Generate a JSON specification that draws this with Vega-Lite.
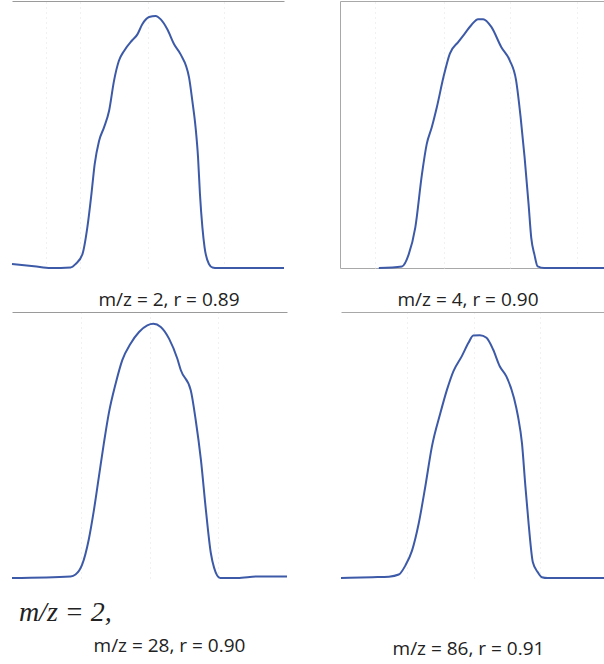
{
  "$schema": "https://vega.github.io/schema/vega-lite/v6.json",
  "padding": {"left": 8, "top": 0, "right": 0, "bottom": 6},
  "autosize": {"type": "pad"},
  "background": "white",
  "config": {
    "view": {"stroke": null},
    "title": {"font": "Open Sans", "fontSize": 19, "fontWeight": "normal", "color": "#222", "orient": "bottom", "anchor": "middle"},
    "line": {"color": "#3d5aa8", "strokeWidth": 2, "interpolate": "monotone"}
  },
  "datasets": {
    "p1": [
      {"t": 0, "v": 1.5}, {"t": 8.1, "v": 0.7}, {"t": 14.2, "v": 0}, {"t": 21.6, "v": 0.2}, {"t": 23.4, "v": 1.5},
      {"t": 25.9, "v": 5.2}, {"t": 27.7, "v": 15.2}, {"t": 29.2, "v": 27.7}, {"t": 30.4, "v": 38.9}, {"t": 32.0, "v": 47.6},
      {"t": 33.8, "v": 52.6}, {"t": 35.7, "v": 58.9}, {"t": 37.5, "v": 70.1}, {"t": 39.3, "v": 77.6}, {"t": 41.2, "v": 81.3},
      {"t": 44.2, "v": 85.3}, {"t": 46.1, "v": 87.5}, {"t": 47.9, "v": 91.3}, {"t": 50.4, "v": 94.0}, {"t": 52.8, "v": 94.4},
      {"t": 54.7, "v": 93.1}, {"t": 57.1, "v": 89.4}, {"t": 59.6, "v": 83.8}, {"t": 62.0, "v": 80.0}, {"t": 65.1, "v": 71.3},
      {"t": 66.3, "v": 62.6}, {"t": 67.5, "v": 52.6}, {"t": 68.4, "v": 41.4}, {"t": 69.1, "v": 27.7}, {"t": 70.0, "v": 15.2},
      {"t": 70.8, "v": 7.7}, {"t": 72.4, "v": 1.5}, {"t": 73.7, "v": 0.2}, {"t": 75.5, "v": 0}, {"t": 100, "v": 0}
    ],
    "p2": [
      {"t": 14.6, "v": 0}, {"t": 23.3, "v": 0.6}, {"t": 25.8, "v": 5.0}, {"t": 28.3, "v": 15.1}, {"t": 30.8, "v": 35.1},
      {"t": 32.6, "v": 46.4}, {"t": 34.5, "v": 52.7}, {"t": 36.4, "v": 60.2}, {"t": 38.9, "v": 71.5}, {"t": 41.3, "v": 80.3},
      {"t": 44.5, "v": 84.7}, {"t": 46.9, "v": 87.8}, {"t": 49.4, "v": 91.0}, {"t": 51.9, "v": 93.2}, {"t": 53.8, "v": 93.2},
      {"t": 56.9, "v": 90.3}, {"t": 60.6, "v": 82.8}, {"t": 63.8, "v": 77.8}, {"t": 66.2, "v": 70.3}, {"t": 67.9, "v": 56.5},
      {"t": 69.4, "v": 41.4}, {"t": 70.9, "v": 23.8}, {"t": 71.9, "v": 11.3}, {"t": 73.1, "v": 5.0}, {"t": 74.3, "v": 0.6},
      {"t": 76.8, "v": 0}, {"t": 100, "v": 0}
    ],
    "p3": [
      {"t": 0, "v": 0}, {"t": 21.3, "v": 0.6}, {"t": 23.1, "v": 1.3}, {"t": 25.5, "v": 5.0}, {"t": 27.9, "v": 14.4},
      {"t": 29.8, "v": 25.6}, {"t": 31.6, "v": 38.1}, {"t": 33.4, "v": 50.6}, {"t": 35.2, "v": 61.9}, {"t": 37.7, "v": 73.1},
      {"t": 40.1, "v": 81.9}, {"t": 43.1, "v": 88.1}, {"t": 46.2, "v": 92.5}, {"t": 49.2, "v": 95.0}, {"t": 51.4, "v": 95.6},
      {"t": 54.1, "v": 94.4}, {"t": 57.1, "v": 90.0}, {"t": 60.1, "v": 82.5}, {"t": 61.4, "v": 78.1}, {"t": 65.0, "v": 70.6},
      {"t": 66.8, "v": 59.4}, {"t": 68.7, "v": 44.4}, {"t": 70.5, "v": 25.6}, {"t": 72.3, "v": 9.4}, {"t": 73.5, "v": 3.8},
      {"t": 75.7, "v": 0}, {"t": 82.0, "v": 0}, {"t": 89.3, "v": 0.6}, {"t": 100, "v": 0.6}
    ],
    "p4": [
      {"t": 0, "v": 0}, {"t": 11.9, "v": 0.3}, {"t": 18.1, "v": 0.5}, {"t": 21.8, "v": 1.3}, {"t": 24.3, "v": 4.7},
      {"t": 26.8, "v": 10.3}, {"t": 29.3, "v": 20.4}, {"t": 31.8, "v": 34.3}, {"t": 34.3, "v": 49.4}, {"t": 37.5, "v": 62.0},
      {"t": 40.0, "v": 70.8}, {"t": 42.4, "v": 77.7}, {"t": 45.6, "v": 83.4}, {"t": 48.1, "v": 88.4}, {"t": 49.9, "v": 91.2},
      {"t": 52.4, "v": 91.3}, {"t": 54.9, "v": 90.3}, {"t": 57.4, "v": 85.9}, {"t": 59.9, "v": 79.6}, {"t": 62.4, "v": 75.8},
      {"t": 65.3, "v": 67.6}, {"t": 66.8, "v": 60.7}, {"t": 68.3, "v": 50.6}, {"t": 69.5, "v": 35.5}, {"t": 70.8, "v": 20.4},
      {"t": 72.4, "v": 5.9}, {"t": 74.3, "v": 2.1}, {"t": 75.8, "v": 0.3}, {"t": 78.0, "v": 0}, {"t": 100, "v": 0}
    ]
  },
  "vconcat": [
    {
      "spacing": 56,
      "bounds": "flush",
      "hconcat": [
        {
          "width": 272, "height": 267,
          "title": {"text": "m/z = 2, r = 0.89", "dx": 21, "offset": 19, "fontSize": 19},
          "data": {"name": "p1"},
          "mark": "line",
          "encoding": {
            "x": {"field": "t", "type": "quantitative", "scale": {"domain": [0, 100], "nice": false},
              "axis": {"orient": "top", "title": null, "labels": false, "ticks": false, "domainColor": "#9a9a9a", "domainWidth": 1, "values": [12.5, 25, 50, 78], "grid": true, "gridColor": "#e2e2e2", "gridDash": [1, 4]}},
            "y": {"field": "v", "type": "quantitative", "scale": {"domain": [0, 100], "nice": false}, "axis": null}
          }
        },
        {
          "width": 266, "height": 267,
          "view": {"stroke": "#a8a8a8", "strokeWidth": 1},
          "title": {"text": "m/z = 4, r = 0.90", "dx": -5, "offset": 19, "fontSize": 19},
          "data": {"name": "p2"},
          "mark": "line",
          "encoding": {
            "x": {"field": "t", "type": "quantitative", "scale": {"domain": [0, 100], "nice": false},
              "axis": {"orient": "top", "title": null, "labels": false, "ticks": false, "domain": false, "values": [13, 39, 64, 89], "grid": true, "gridColor": "#e2e2e2", "gridDash": [1, 4]}},
            "y": {"field": "v", "type": "quantitative", "scale": {"domain": [0, 100], "nice": false}, "axis": null}
          }
        }
      ]
    },
    {
      "spacing": 54,
      "bounds": "flush",
      "hconcat": [
        {
          "width": 275, "height": 266,
          "title": {"text": "m/z = 28, r = 0.90", "dx": 20, "offset": 10, "fontSize": 19},
          "layer": [
            {
              "data": {"name": "p3"},
              "mark": "line",
              "encoding": {
                "x": {"field": "t", "type": "quantitative", "scale": {"domain": [0, 100], "nice": false},
                  "axis": {"orient": "top", "title": null, "labels": false, "ticks": false, "domainColor": "#9a9a9a", "domainWidth": 1, "values": [25, 50, 75], "grid": true, "gridColor": "#e2e2e2", "gridDash": [1, 4]}},
                "y": {"field": "v", "type": "quantitative", "scale": {"domain": [0, 100], "nice": false}, "axis": null}
              }
            },
            {
              "data": {"values": [{"label": "m/z = 2,"}]},
              "mark": {"type": "text", "font": "Liberation Serif", "fontStyle": "italic", "fontSize": 28, "align": "left", "baseline": "middle", "color": "#222", "clip": false},
              "encoding": {
                "text": {"field": "label"},
                "x": {"datum": 2.5, "type": "quantitative"},
                "y": {"datum": -13.2, "type": "quantitative"}
              }
            }
          ]
        },
        {
          "width": 265, "height": 266,
          "title": {"text": "m/z = 86, r = 0.91", "dx": -5, "offset": 58, "fontSize": 19},
          "data": {"name": "p4"},
          "mark": "line",
          "encoding": {
            "x": {"field": "t", "type": "quantitative", "scale": {"domain": [0, 100], "nice": false},
              "axis": {"orient": "top", "title": null, "labels": false, "ticks": false, "domainColor": "#a8a8a8", "domainWidth": 1, "values": [25, 50, 75], "grid": true, "gridColor": "#e2e2e2", "gridDash": [1, 4]}},
            "y": {"field": "v", "type": "quantitative", "scale": {"domain": [0, 100], "nice": false}, "axis": null}
          }
        }
      ]
    }
  ],
  "spacing": 1
}
